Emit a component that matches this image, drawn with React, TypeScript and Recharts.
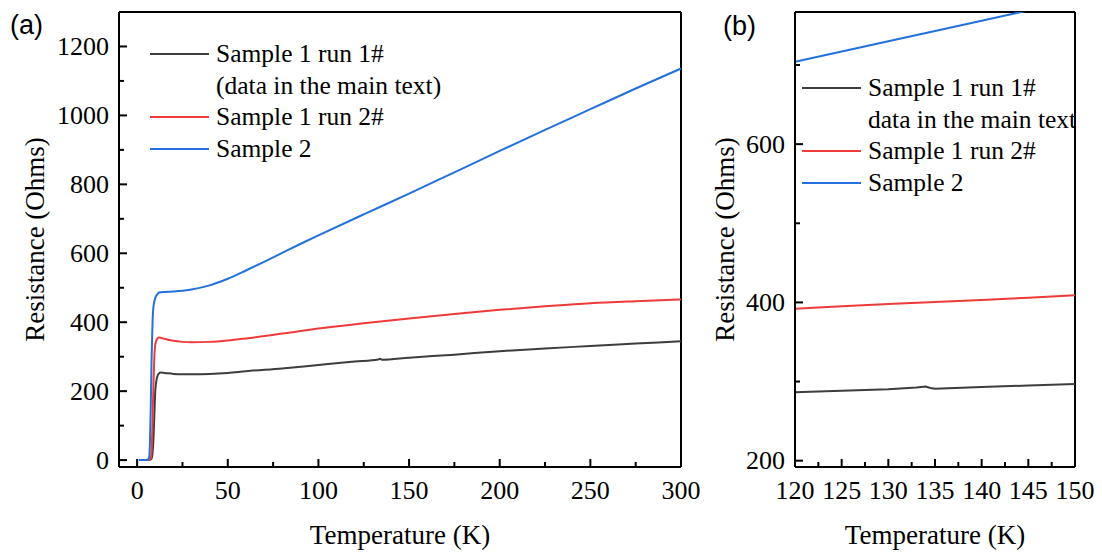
import { LineChart, Line, XAxis, YAxis, ReferenceLine, Legend } from "recharts";

const SERIF = "Liberation Serif, Times New Roman, Times, DejaVu Serif, serif";
const SANS = "Liberation Sans, Arial, sans-serif";

// series names / colours shared by both panels
const seriesNames = ["Sample 1 run 1#", "Sample 1 run 2#", "Sample 2"];
const seriesColors = ["#3d3d3d", "#ef3a3a", "#2470de"];
const legendNotesA = ["(data in the main text)", "", ""];
const legendNotesB = ["data in the main text", "", ""];

// panel (a): 0 - 300 K
const tempA1 = [2, 5, 7, 8, 8.5, 9, 9.5, 10, 11, 12, 13, 15, 20, 25, 30, 40, 50, 60, 80, 100, 120, 133, 134, 135, 150, 175, 200, 225, 250, 275, 300];
const resA1 = [0, 0, 1, 5, 20, 60, 130, 200, 240, 251, 254, 253, 250, 249, 249, 250, 253, 258, 266, 276, 286, 292, 294, 291, 297, 306, 316, 324, 331, 338, 345];

const tempA2 = [2, 5, 6.5, 7.5, 8, 8.5, 9, 9.5, 10, 11, 12, 13, 15, 20, 25, 30, 40, 50, 60, 80, 100, 125, 150, 175, 200, 225, 250, 275, 300];
const resA2 = [0, 0, 1, 5, 30, 110, 220, 300, 335, 352, 356, 355, 352, 346, 343, 342, 343, 347, 353, 367, 382, 397, 411, 424, 436, 446, 455, 461, 466];

const tempA3 = [1, 4, 5.5, 6.5, 7, 7.5, 8, 8.5, 9, 10, 11, 12, 15, 20, 25, 30, 40, 50, 60, 70, 80, 90, 100, 125, 150, 175, 200, 225, 250, 275, 300];
const resA3 = [0, 0, 1, 5, 40, 150, 300, 400, 445, 470, 480, 486, 488, 489, 491, 495, 507, 526, 550, 575, 601, 627, 652, 713, 773, 835, 897, 958, 1018, 1078, 1136];

const xTicksA = [0, 25, 50, 75, 100, 125, 150, 175, 200, 225, 250, 275, 300];
const xMajorA = [0, 50, 100, 150, 200, 250, 300];
const yTicksA = [0, 100, 200, 300, 400, 500, 600, 700, 800, 900, 1000, 1100, 1200];
const yMajorA = [0, 200, 400, 600, 800, 1000, 1200];

// panel (b): zoom 120 - 150 K
const tempB1 = [120, 125, 130, 133, 134, 134.5, 135, 140, 145, 150];
const resB1 = [286.5, 288.3, 290.2, 292.5, 293.8, 291.8, 291, 293, 295, 297];

const tempB2 = [120, 125, 130, 135, 140, 145, 150];
const resB2 = [392, 395, 398, 400.5, 403, 406, 409];

const tempB3 = [120, 125, 130, 135, 140, 145, 150];
const resB3 = [704, 717, 730, 743, 756, 769, 782];

const xTicksB = [120, 122.5, 125, 127.5, 130, 132.5, 135, 137.5, 140, 142.5, 145, 147.5, 150];
const xMajorB = [120, 125, 130, 135, 140, 145, 150];
const yTicksB = [200, 300, 400, 500, 600, 700];
const yMajorB = [200, 400, 600];

const toRows = (t: number[], r: number[]) => t.map((v, i) => ({ t: v, r: r[i] }));

const xTick = (majors: number[]) => (props: any) => {
  const { x, y, payload } = props;
  const major = majors.includes(payload.value);
  return (
    <g>
      <line x1={x} x2={x} y1={y} y2={y - (major ? 8 : 5)} stroke="#000" strokeWidth={2} />
      {major && (
        <text x={x} y={y + 23} textAnchor="middle" dominantBaseline="central" style={{ fontFamily: SERIF }} fontSize={26} fill="#000">
          {payload.value}
        </text>
      )}
    </g>
  );
};

const yTick = (majors: number[]) => (props: any) => {
  const { x, y, payload } = props;
  const major = majors.includes(payload.value);
  return (
    <g>
      <line x1={x} x2={x + (major ? 8 : 5)} y1={y} y2={y} stroke="#000" strokeWidth={2} />
      {major && (
        <text x={x - 10} y={y} textAnchor="end" dominantBaseline="central" style={{ fontFamily: SERIF }} fontSize={26} fill="#000">
          {payload.value}
        </text>
      )}
    </g>
  );
};

const xTitle = (props: any) => {
  const vb = props.viewBox;
  return (
    <text x={vb.x + vb.width / 2} y={vb.y + 68} textAnchor="middle" dominantBaseline="central" style={{ fontFamily: SERIF }} fontSize={27} fill="#000">
      Temperature (K)
    </text>
  );
};

const yTitle = (dx: number) => (props: any) => {
  const vb = props.viewBox;
  const cx = vb.x + vb.width - dx;
  const cy = vb.y + vb.height / 2;
  return (
    <text x={cx} y={cy} transform={`rotate(-90 ${cx} ${cy})`} textAnchor="middle" dominantBaseline="central" style={{ fontFamily: SERIF }} fontSize={27} fill="#000">
      Resistance (Ohms)
    </text>
  );
};

function LegendBox({ notes }: { notes: string[] }) {
  return (
    <div style={{ fontFamily: SERIF, fontSize: 25.5, color: "#000", lineHeight: "31.7px" }}>
      {seriesNames.map((name, i) => (
        <div key={name}>
          <div style={{ display: "flex", alignItems: "center", whiteSpace: "nowrap" }}>
            <span style={{ width: 59, height: 0, borderTop: `2.5px solid ${seriesColors[i]}`, marginRight: 7 }} />
            <span>{name}</span>
          </div>
          {notes[i] && <div style={{ paddingLeft: 66, whiteSpace: "nowrap" }}>{notes[i]}</div>}
        </div>
      ))}
    </div>
  );
}

const axisLine = { stroke: "#000", strokeWidth: 2 };

export default function App() {
  const linesA = [toRows(tempA1, resA1), toRows(tempA2, resA2), toRows(tempA3, resA3)];
  const linesB = [toRows(tempB1, resB1), toRows(tempB2, resB2), toRows(tempB3, resB3)];

  return (
    <div style={{ position: "absolute", left: 0, top: 0, width: 1102, height: 552, background: "#fff" }}>
      <div style={{ position: "absolute", left: 10, top: 12, fontFamily: SANS, fontSize: 27, lineHeight: "27px" }}>(a)</div>
      <div style={{ position: "absolute", left: 723, top: 13, fontFamily: SANS, fontSize: 27, lineHeight: "27px" }}>(b)</div>

      <div style={{ position: "absolute", left: 0, top: 0 }}>
        <LineChart width={700} height={552} margin={{ top: 12, right: 19, bottom: 0, left: 0 }}>
          <XAxis
            type="number"
            dataKey="t"
            domain={[-10, 300]}
            ticks={xTicksA}
            interval={0}
            allowDataOverflow
            height={85}
            tickSize={0}
            tickMargin={0}
            tickLine={false}
            axisLine={axisLine}
            tick={xTick(xMajorA)}
            label={{ content: xTitle }}
          />
          <YAxis
            type="number"
            domain={[-20, 1300]}
            ticks={yTicksA}
            interval={0}
            allowDataOverflow
            width={119}
            tickSize={0}
            tickMargin={0}
            tickLine={false}
            axisLine={axisLine}
            tick={yTick(yMajorA)}
            label={{ content: yTitle(84) }}
          />
          <ReferenceLine x={300} stroke="#000" strokeWidth={2} />
          <ReferenceLine y={1300} stroke="#000" strokeWidth={2} />
          {linesA.map((rows, i) => (
            <Line
              key={seriesNames[i]}
              data={rows}
              dataKey="r"
              name={seriesNames[i]}
              type="monotone"
              stroke={seriesColors[i]}
              strokeWidth={2}
              dot={false}
              isAnimationActive={false}
            />
          ))}
          <Legend
            layout="horizontal"
            verticalAlign="middle"
            align="center"
            wrapperStyle={{ left: 150, top: 38, width: "auto" }}
            content={() => <LegendBox notes={legendNotesA} />}
          />
        </LineChart>
      </div>

      <div style={{ position: "absolute", left: 700, top: 0 }}>
        <LineChart width={402} height={552} margin={{ top: 12, right: 27, bottom: 0, left: 0 }}>
          <XAxis
            type="number"
            dataKey="t"
            domain={[120, 150]}
            ticks={xTicksB}
            interval={0}
            allowDataOverflow
            height={85}
            tickSize={0}
            tickMargin={0}
            tickLine={false}
            axisLine={axisLine}
            tick={xTick(xMajorB)}
            label={{ content: xTitle }}
          />
          <YAxis
            type="number"
            domain={[192, 767]}
            ticks={yTicksB}
            interval={0}
            allowDataOverflow
            width={95}
            tickSize={0}
            tickMargin={0}
            tickLine={false}
            axisLine={axisLine}
            tick={yTick(yMajorB)}
            label={{ content: yTitle(70) }}
          />
          <ReferenceLine x={150} stroke="#000" strokeWidth={2} />
          <ReferenceLine y={767} stroke="#000" strokeWidth={2} />
          {linesB.map((rows, i) => (
            <Line
              key={seriesNames[i]}
              data={rows}
              dataKey="r"
              name={seriesNames[i]}
              type="linear"
              stroke={seriesColors[i]}
              strokeWidth={2}
              dot={false}
              isAnimationActive={false}
            />
          ))}
          <Legend
            layout="horizontal"
            verticalAlign="middle"
            align="center"
            wrapperStyle={{ left: 102, top: 72, width: "auto" }}
            content={() => <LegendBox notes={legendNotesB} />}
          />
        </LineChart>
      </div>
    </div>
  );
}
